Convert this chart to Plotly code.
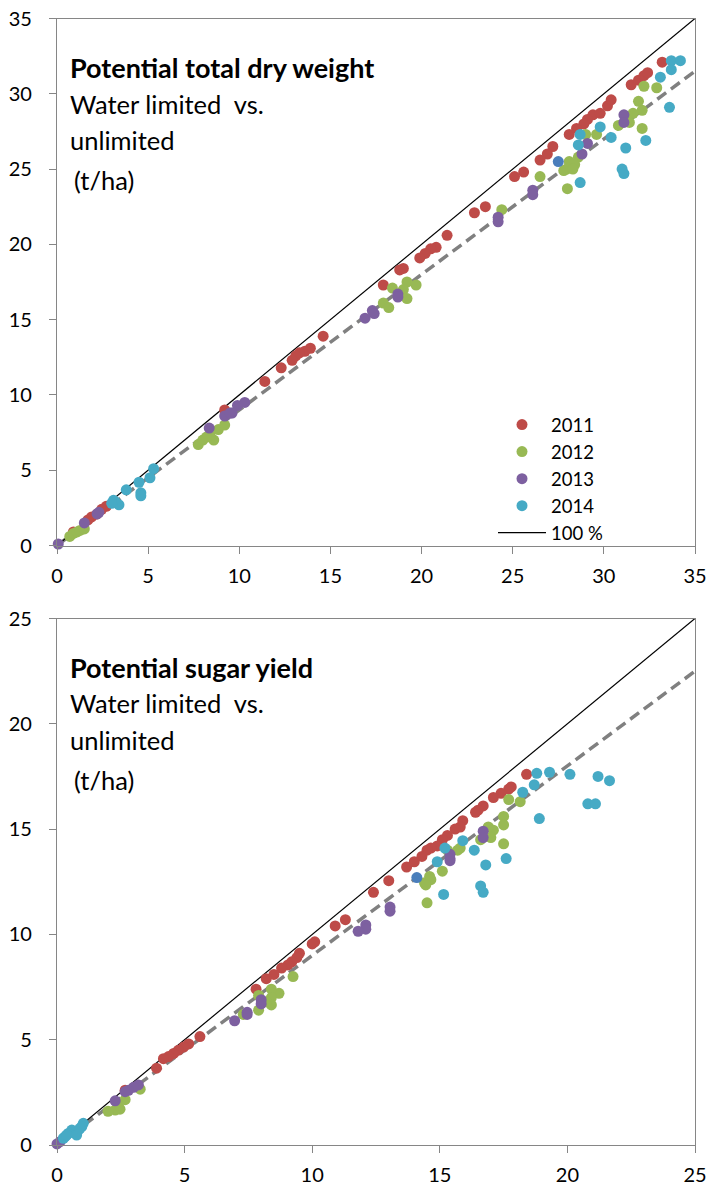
import plotly.graph_objects as go

# ---------------- data: potential total dry weight (t/ha) ----------------
dw_2011_x = [33.2, 31.5, 31.9, 32.2, 32.4, 29.4, 29.8, 30.2, 30.4, 29.1, 28.9, 28.5, 28.1, 27.2, 26.9, 26.5, 25.6, 25.1,
             23.5, 22.9, 21.4, 20.8, 20.5, 20.2, 19.9, 19.0, 18.8, 17.9, 14.6, 13.9, 13.6, 13.3, 13.1, 12.9, 12.3, 11.4,
             9.2, 2.7, 2.45, 2.2, 1.9, 1.7, 0.9]
dw_2011_y = [32.1, 30.6, 30.9, 31.2, 31.4, 28.6, 28.7, 29.2, 29.6, 28.3, 28.0, 27.7, 27.3, 26.5, 26.0, 25.6, 24.8, 24.5,
             22.5, 22.1, 20.6, 19.8, 19.7, 19.4, 19.1, 18.4, 18.3, 17.3, 13.9, 13.1, 12.9, 12.8, 12.6, 12.3, 11.8, 10.9,
             9.0, 2.6, 2.4, 2.1, 1.9, 1.7, 0.9]
dw_2012_x = [32.2, 32.9, 31.9, 32.1, 31.6, 31.3, 31.4, 30.8, 32.1, 29.6, 29.0, 28.6, 28.1, 28.4, 27.96, 27.8, 28.3, 26.5,
             28.0, 24.4, 18.4, 19.2, 19.7, 19.2, 17.9, 18.2, 19.0, 7.75, 8.0, 8.6, 8.4, 8.85, 9.2, 8.2, 0.7, 0.9, 1.1,
             1.26, 1.5]
dw_2012_y = [30.5, 30.4, 29.5, 28.9, 28.7, 28.5, 28.1, 27.9, 27.7, 27.3, 27.3, 25.8, 25.5, 25.3, 25.0, 24.9, 25.0, 24.5,
             23.7, 22.3, 17.1, 17.5, 17.3, 16.4, 16.1, 15.8, 17.0, 6.7, 7.0, 7.0, 7.3, 7.7, 8.0, 7.2, 0.6, 0.8, 0.9,
             1.0, 1.1]
dw_2013_x = [31.1, 31.1, 29.1, 28.8, 26.1, 26.1, 24.2, 24.2, 18.7, 18.7, 17.3, 17.4, 16.9, 10.3, 9.9, 9.6, 9.2, 8.35,
             9.5, 2.3, 2.2, 1.5, 0.07]
dw_2013_y = [28.6, 28.1, 26.7, 26.0, 23.6, 23.3, 21.8, 21.5, 16.7, 16.5, 15.6, 15.4, 15.1, 9.5, 9.3, 8.8, 8.6, 7.8,
             8.8, 2.2, 2.1, 1.5, 0.1]
dw_2014_x = [33.7, 34.2, 33.7, 33.1, 33.6, 29.8, 30.4, 28.7, 28.6, 31.2, 32.3, 31.0, 31.1, 28.7, 5.3, 5.1, 4.5, 4.6,
             4.6, 3.8, 3.1, 3.2, 3.4, 3.0]
dw_2014_y = [32.2, 32.2, 31.6, 31.1, 29.1, 27.8, 27.1, 27.3, 26.6, 26.4, 26.9, 25.0, 24.7, 24.1, 5.1, 4.5, 4.2, 3.5,
             3.3, 3.7, 3.0, 2.9, 2.7, 2.8]
dw_extra_x = [27.5]
dw_extra_y = [25.5]

# ---------------- data: potential sugar yield (t/ha) ----------------
sy_2011_x = [18.4, 17.8, 17.7, 17.4, 17.1, 16.7, 16.5, 16.4, 15.9, 15.8, 15.6, 15.3, 15.1, 14.9, 14.65, 14.5, 14.3,
             14.0, 13.7, 13.0, 12.4, 11.3, 10.9, 10.1, 10.0, 9.5, 9.4, 9.2, 9.05, 8.8, 8.5, 8.2, 7.8, 5.6, 5.16, 4.96,
             4.76, 4.57, 4.37, 4.17, 3.9, 2.67]
sy_2011_y = [17.6, 17.0, 16.9, 16.7, 16.5, 16.1, 15.9, 15.8, 15.4, 15.1, 15.0, 14.7, 14.5, 14.2, 14.1, 14.0, 13.7,
             13.45, 13.2, 12.55, 12.0, 10.7, 10.4, 9.65, 9.55, 9.1, 8.9, 8.7, 8.55, 8.4, 8.1, 7.9, 7.4, 5.15, 4.8, 4.65,
             4.5, 4.35, 4.2, 4.1, 3.65, 2.6]
sy_2012_x = [18.15, 17.7, 17.5, 17.5, 17.1, 17.0, 16.9, 16.6, 17.5, 15.8, 15.7, 15.3, 15.1, 14.6, 14.4, 14.65, 14.45,
             14.5, 9.25, 8.7, 8.4, 8.4, 8.4, 8.2, 7.9, 7.9, 7.3, 3.26, 2.67, 2.47, 2.28, 2.0, 2.4]
sy_2012_y = [16.3, 16.4, 15.6, 15.2, 14.95, 14.6, 15.1, 14.5, 14.3, 14.1, 14.0, 14.0, 13.0, 12.75, 12.45, 12.6, 12.35,
             11.5, 8.0, 7.2, 7.4, 7.0, 6.65, 6.8, 7.1, 6.4, 6.2, 2.65, 2.15, 1.7, 1.66, 1.6, 1.9]
sy_2013_x = [16.7, 16.7, 15.4, 15.4, 15.4, 13.05, 13.05, 12.1, 12.1, 11.8, 8.0, 8.0, 7.45, 7.45, 6.96, 3.19, 3.0, 2.8,
             2.67, 2.28, 0.0, 0.12]
sy_2013_y = [14.9, 14.6, 13.8, 13.5, 13.6, 11.3, 11.1, 10.45, 10.25, 10.15, 6.9, 6.7, 6.3, 6.2, 5.9, 2.85, 2.74, 2.6,
             2.53, 2.1, 0.05, 0.16]
sy_2014_x = [18.8, 19.3, 20.1, 21.2, 21.65, 18.7, 18.25, 20.8, 21.1, 18.9, 15.9, 15.2, 14.9, 16.35, 16.8, 17.6, 16.6,
             16.7, 15.15, 1.03, 0.97, 0.84, 0.71, 0.58, 0.44, 0.31, 0.25, 0.38, 0.77, 0.9]
sy_2014_y = [17.65, 17.7, 17.6, 17.5, 17.3, 17.1, 16.75, 16.2, 16.2, 15.5, 14.45, 14.1, 13.45, 14.0, 13.3, 13.6, 12.3,
             12.0, 11.9, 1.03, 0.87, 0.71, 0.58, 0.71, 0.55, 0.39, 0.32, 0.47, 0.47, 0.79]
sy_extra_x = [14.1]
sy_extra_y = [12.7]

years = ["2011", "2012", "2013", "2014"]
trend_slope = 0.9          # dashed regression line (water limited / unlimited)
dw_max = 35
sy_max = 25
tick_step = 5

colors = {"2011": "#BE4B48", "2012": "#98B954", "2013": "#7D60A0", "2014": "#46AAC5", "extra": "#4A7EBB"}
FONT = "Lato, Carlito, Calibri, sans-serif"
AXIS_COLOR = "#868686"
MS = 11

fig = go.Figure()

dw_sets = {"2011": (dw_2011_x, dw_2011_y), "2012": (dw_2012_x, dw_2012_y),
           "2013": (dw_2013_x, dw_2013_y), "2014": (dw_2014_x, dw_2014_y)}
sy_sets = {"2011": (sy_2011_x, sy_2011_y), "2012": (sy_2012_x, sy_2012_y),
           "2013": (sy_2013_x, sy_2013_y), "2014": (sy_2014_x, sy_2014_y)}

# ---- top panel ----
fig.add_trace(go.Scatter(x=[0, dw_max], y=[0, trend_slope * dw_max], mode="lines",
                         line=dict(color="#808080", width=3.5, dash="11px,6px"),
                         showlegend=False, xaxis="x", yaxis="y", hoverinfo="skip"))
fig.add_trace(go.Scatter(x=[0, dw_max], y=[0, dw_max], mode="lines", name="100 %",
                         line=dict(color="black", width=1.2), showlegend=False,
                         xaxis="x", yaxis="y"))
for yr in years:
    xs, ys = dw_sets[yr]
    fig.add_trace(go.Scatter(x=xs, y=ys, mode="markers", name=yr,
                             marker=dict(color=colors[yr], size=MS), cliponaxis=False,
                             xaxis="x", yaxis="y"))
fig.add_trace(go.Scatter(x=dw_extra_x, y=dw_extra_y, mode="markers", showlegend=False,
                         marker=dict(color=colors["extra"], size=MS), cliponaxis=False,
                         xaxis="x", yaxis="y"))
# legend entry for the 100 % line (listed last)
fig.add_trace(go.Scatter(x=[None], y=[None], mode="lines", name="100 %",
                         line=dict(color="black", width=1.2), xaxis="x", yaxis="y"))

# ---- bottom panel ----
fig.add_trace(go.Scatter(x=[0, sy_max], y=[0, trend_slope * sy_max], mode="lines",
                         line=dict(color="#808080", width=3.5, dash="11px,6px"),
                         showlegend=False, xaxis="x2", yaxis="y2", hoverinfo="skip"))
fig.add_trace(go.Scatter(x=[0, sy_max], y=[0, sy_max], mode="lines",
                         line=dict(color="black", width=1.2), showlegend=False,
                         xaxis="x2", yaxis="y2"))
for yr in years:
    xs, ys = sy_sets[yr]
    fig.add_trace(go.Scatter(x=xs, y=ys, mode="markers", name=yr, showlegend=False,
                             marker=dict(color=colors[yr], size=MS), cliponaxis=False,
                             xaxis="x2", yaxis="y2"))
fig.add_trace(go.Scatter(x=sy_extra_x, y=sy_extra_y, mode="markers", showlegend=False,
                         marker=dict(color=colors["extra"], size=MS), cliponaxis=False,
                         xaxis="x2", yaxis="y2"))

W, H = 708, 1186
xdom = [57 / W, 695 / W]
top_dom = [1 - 545.5 / H, 1 - 18.5 / H]
bot_dom = [1 - 1145 / H, 1 - 618.5 / H]

def axis(rng, dom, anchor, standoff):
    return dict(range=rng, domain=dom, anchor=anchor, dtick=tick_step, tick0=0,
                showgrid=False, zeroline=False, showline=True, linecolor=AXIS_COLOR,
                linewidth=1.2, mirror=True, ticks="outside", ticklen=7, tickwidth=1.2,
                tickcolor=AXIS_COLOR, ticklabelstandoff=standoff, automargin=False,
                tickfont=dict(family=FONT, size=20, color="black"), fixedrange=True)

fig.update_layout(
    width=W, height=H, margin=dict(l=0, r=0, t=0, b=0),
    template="none", paper_bgcolor="white", plot_bgcolor="white",
    font=dict(family=FONT, size=20, color="black"),
    xaxis=axis([0, dw_max], xdom, "y", 5),
    yaxis=axis([0, dw_max], top_dom, "x", 13),
    xaxis2=axis([0, sy_max], xdom, "y2", 5),
    yaxis2=axis([0, sy_max], bot_dom, "x2", 13),
    legend=dict(x=493 / W, y=1 - 406 / H, xanchor="left", yanchor="top",
                bgcolor="rgba(0,0,0,0)", borderwidth=0, tracegroupgap=0,
                font=dict(family=FONT, size=18.5, color="black"), itemwidth=48),
    showlegend=True,
)

def label_lines(lines, y_centers):
    for (txt, bold, xpix, size), yc in zip(lines, y_centers):
        fig.add_annotation(text=f"<b>{txt}</b>" if bold else txt, xref="paper", yref="paper",
                           x=xpix / W, y=1 - yc / H, xanchor="left", yanchor="middle",
                           showarrow=False, font=dict(family=FONT, size=size, color="black"))

label_lines([("Potential total dry weight", True, 68, 27), ("Water limited  vs.", False, 68, 25.5),
             ("unlimited", False, 68, 25.5), ("(t/ha)", False, 72, 25.5)], [68, 104, 140, 180])
label_lines([("Potential sugar yield", True, 68, 27), ("Water limited  vs.", False, 68, 25.5),
             ("unlimited", False, 68, 25.5), ("(t/ha)", False, 72, 25.5)], [667, 703, 740, 780])

fig.write_html("out.html")
